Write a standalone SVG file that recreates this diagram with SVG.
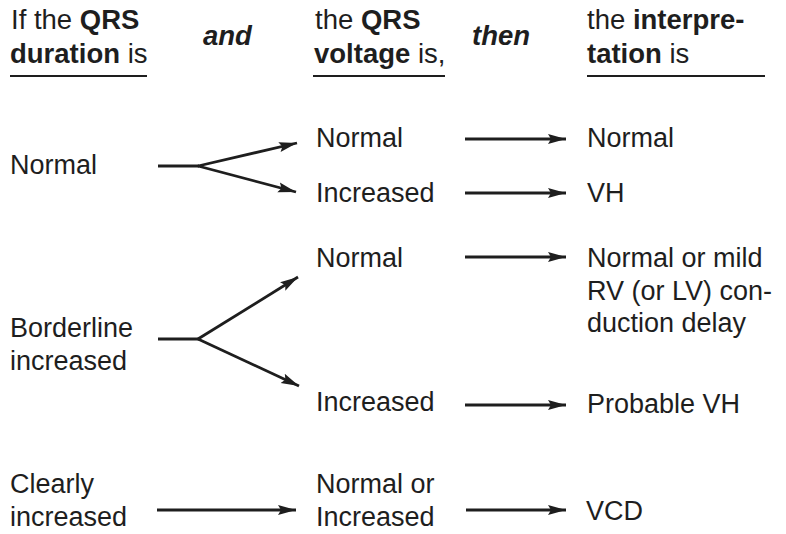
<svg xmlns="http://www.w3.org/2000/svg" width="786" height="534" viewBox="0 0 786 534">
<defs>
<style>
text{font-family:"Liberation Sans",Arial,Helvetica,sans-serif;fill:#1e1e1e}
.h{font-size:27.5px}
.b{font-weight:bold}
.bi{font-weight:bold;font-style:italic}
.t{font-size:27px}
.ul{stroke:#1e1e1e;stroke-width:2.2}
.c{stroke:#1e1e1e;stroke-width:2.8;fill:none}
.a{marker-end:url(#ah)}
</style>
<marker id="ah" markerUnits="userSpaceOnUse" markerWidth="20" markerHeight="12" refX="18" refY="6" orient="auto">
<path d="M0,1 L18,6 L0,11 L3,6 z" fill="#1e1e1e"/>
</marker>
</defs>
<rect width="786" height="534" fill="#fff"/>
<g id="header">
<text class="h" x="11" y="29">If the <tspan class="b">QRS</tspan></text>
<text class="h" x="10" y="63"><tspan class="b">duration</tspan> is</text>
<line class="ul" x1="10" y1="76" x2="147" y2="76"/>
<text class="h bi" x="203" y="45">and</text>
<text class="h" x="315" y="29">the <tspan class="b">QRS</tspan></text>
<text class="h" x="314" y="63"><tspan class="b">voltage</tspan> is,</text>
<line class="ul" x1="313" y1="76" x2="445" y2="76"/>
<text class="h bi" x="472" y="45">then</text>
<text class="h" x="587" y="29">the <tspan class="b">interpre-</tspan></text>
<text class="h" x="587" y="63"><tspan class="b">tation</tspan> is</text>
<line class="ul" x1="587" y1="76" x2="765" y2="76"/>
</g>
<g id="dur-normal"><text class="t" x="10" y="174">Normal</text></g>
<g id="dur-borderline"><text class="t" x="10" y="337">Borderline</text><text class="t" x="10" y="370">increased</text></g>
<g id="dur-clearly"><text class="t" x="10" y="493">Clearly</text><text class="t" x="10" y="526">increased</text></g>
<g id="volt-normal-1"><text class="t" x="316" y="147">Normal</text></g>
<g id="volt-increased-1"><text class="t" x="316" y="202">Increased</text></g>
<g id="volt-normal-2"><text class="t" x="316" y="267">Normal</text></g>
<g id="volt-increased-2"><text class="t" x="316" y="411">Increased</text></g>
<g id="volt-either"><text class="t" x="316" y="493">Normal or</text><text class="t" x="316" y="526">Increased</text></g>
<g id="int-normal"><text class="t" x="587" y="147">Normal</text></g>
<g id="int-vh"><text class="t" x="587" y="202">VH</text></g>
<g id="int-delay"><text class="t" x="587" y="267">Normal or mild</text><text class="t" x="587" y="300">RV (or LV) con-</text><text class="t" x="587" y="332">duction delay</text></g>
<g id="int-probable"><text class="t" x="587" y="413">Probable VH</text></g>
<g id="int-vcd"><text class="t" x="586" y="520">VCD</text></g>
<g id="connectors">
<line class="c" x1="158" y1="166" x2="199" y2="166"/>
<line class="c a" x1="198" y1="166" x2="297" y2="143"/>
<line class="c a" x1="198" y1="166" x2="296" y2="192"/>
<line class="c a" x1="465" y1="139" x2="566" y2="139"/>
<line class="c a" x1="465" y1="193" x2="566" y2="193"/>
<line class="c" x1="158" y1="339" x2="199" y2="339"/>
<line class="c a" x1="198" y1="339" x2="298" y2="277"/>
<line class="c a" x1="198" y1="339" x2="299" y2="386"/>
<line class="c a" x1="465" y1="257" x2="566" y2="257"/>
<line class="c a" x1="465" y1="405" x2="566" y2="405"/>
<line class="c a" x1="157" y1="510" x2="296" y2="510"/>
<line class="c a" x1="466" y1="510" x2="566" y2="510"/>
</g>
</svg>
